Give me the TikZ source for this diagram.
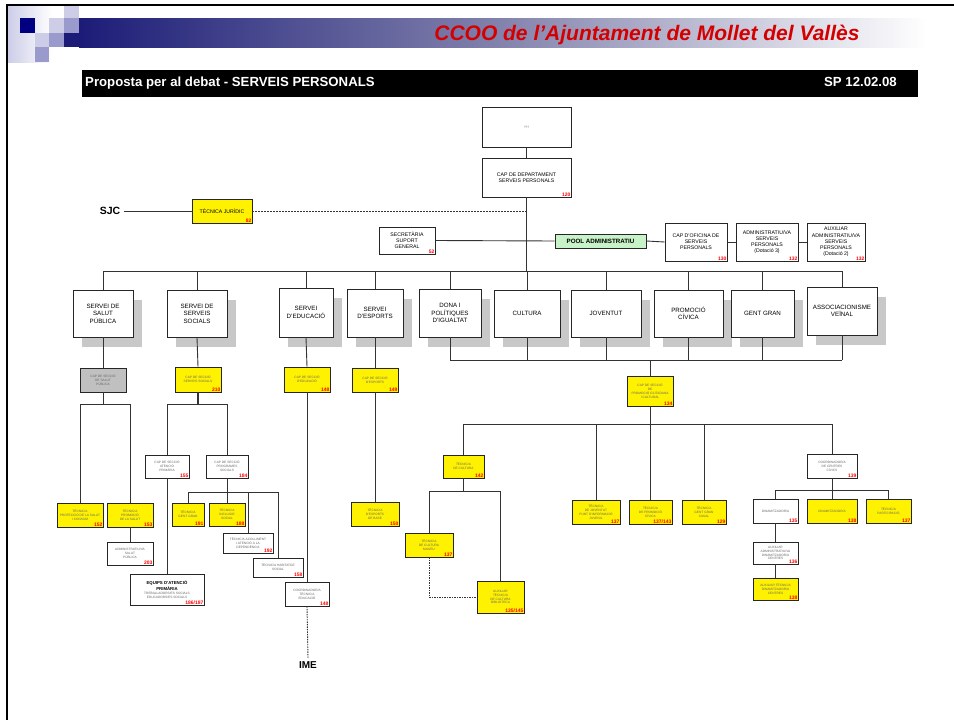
\documentclass[tikz,border=0pt]{standalone}
\usepackage{fontspec}
\setmainfont{Liberation Sans}
\usetikzlibrary{calc}
\definecolor{navy}{HTML}{1C1C78}
\definecolor{navysq}{HTML}{000080}
\definecolor{lavm}{HTML}{9A9ACC}
\definecolor{lavl}{HTML}{CDCDE8}
\definecolor{shadowc}{HTML}{C8C8C8}
\definecolor{greybox}{HTML}{C0C0C0}
\definecolor{poolg}{HTML}{C8F2C8}
\definecolor{titler}{HTML}{D40000}
\tikzset{
  conn/.style={draw=black!80, line width=0.9pt},
  box/.style={draw=black!85, line width=0.9pt, fill=white, inner sep=0.6pt, align=center,
              font=\fontsize{5.2}{6.2}\selectfont},
  ybox/.style={box, fill=yellow, font=\fontsize{3.2}{3.9}\selectfont, text=black!60},
  wbox/.style={box, font=\fontsize{3.2}{3.9}\selectfont, text=black!60},
  gbox/.style={box, fill=greybox, font=\fontsize{3.2}{3.9}\selectfont, text=black!60},
  sbox/.style={box, font=\fontsize{6.2}{7.6}\selectfont},
  num/.style={inner sep=0.9pt, text=red, font=\bfseries\fontsize{5}{5}\selectfont},
  lbl/.style={font=\bfseries\fontsize{10.5}{12}\selectfont},
  bartext/.style={text=white, font=\bfseries\fontsize{13.2}{15}\selectfont, inner sep=0pt},
}
\newcommand\obox[8]{%
  \node[#6, minimum width={(#4-#2)*1pt}, minimum height={(#5-#3)*1pt}] (#1) at ({(#2+#4)/2},{(#3+#5)/2}) {#7};
  \node[num, anchor=south east] (#1n) at (#1.south east) {#8};}
\newcommand\servbox[6]{%
  \fill[shadowc] ({#2+9},{#3+10}) rectangle ({#4+9},{#5+10});
  \node[sbox, minimum width={(#4-#2)*1pt}, minimum height={(#5-#3)*1pt}] (#1) at ({(#2+#4)/2},{(#3+#5)/2}) {#6};}
\newcommand\eqb[1]{{\bfseries\fontsize{4.3}{5.2}\selectfont\color{black}#1}}
\begin{document}
\begin{tikzpicture}[x=1pt,y=-1pt]
\useasboundingbox (0,0) rectangle (954,720);
% ---------- header ----------
\shade[left color=lavl, right color=white] (8,6) rectangle (52,62);
\fill[lavl] (64,6) rectangle (79,18);
\fill[navysq] (20,18) rectangle (35,33);
\fill[lavl] (49,18) rectangle (64,33);
\fill[lavm] (64,18) rectangle (79,33);
\fill[lavl] (35,33) rectangle (49,47);
\fill[lavm] (49,33) rectangle (64,47);
\fill[lavm] (35,47) rectangle (49,62);
\fill[navy] (64,33) rectangle (80,47);
\shade[left color=navy, right color=white, middle color=lavm!85!black] (79,18) rectangle (927,47);
\draw[line width=2.2pt] (7,720) -- (7,5) -- (954,5);
\node[anchor=east, text=titler, font=\bfseries\itshape\fontsize{21}{23}\selectfont] (title) at (863,35) {CCOO de l’Ajuntament de Mollet del Vallès};
\fill[black] (82,70) rectangle (918,97);
\node[bartext, anchor=base west] (bartxt) at (85,86.5) {Proposta per al debat - SERVEIS PERSONALS};
\node[bartext, anchor=base east] (bardate) at (897,86.5) {SP 12.02.08};
% ---------- top ----------
\obox{top}{482}{107}{571}{147}{wbox}{???}{}
\obox{cap}{482}{158}{571}{197}{box}{CAP DE DEPARTAMENT\\SERVEIS PERSONALS}{120}
\node[lbl] (sjc) at (110,211) {SJC};
\obox{tec}{192}{199}{252}{223}{box, fill=yellow}{TÈCNICA JURÍDIC}{82}
\obox{sec}{379}{227}{435}{254}{box}{SECRETÀRIA\\SUPORT\\GENERAL}{52}
\node[box, fill=poolg, font=\bfseries\fontsize{6.2}{7}\selectfont, minimum width=91pt, minimum height=14pt] (pool) at (600.5,241) {POOL ADMINISTRATIU};
\obox{ofi}{665}{223}{727}{261}{box}{CAP D'OFICINA DE\\SERVEIS\\PERSONALS}{130}
\obox{adm}{736}{223}{798}{261}{box}{ADMINISTRATIU/VA\\SERVEIS\\PERSONALS\\(Dotació 3)}{132}
\obox{aux}{807}{223}{865}{261}{box}{AUXILIAR\\ADMINISTRATIU/VA\\SERVEIS\\PERSONALS\\(Dotació 2)}{132}
% ---------- services ----------
\servbox{salut}{73}{290}{133}{337}{SERVEI DE\\SALUT\\PÚBLICA}
\servbox{socials}{167}{290}{227}{337}{SERVEI DE\\SERVEIS\\SOCIALS}
\servbox{educ}{279}{288}{333}{337}{SERVEI\\D'EDUCACIÓ}
\servbox{esports}{347}{289}{403}{337}{SERVEI\\D'ESPORTS}
\servbox{dona}{419}{289}{481}{337}{DONA I\\POLÍTIQUES\\D'IGUALTAT}
\servbox{cultura}{494}{290}{560}{337}{CULTURA}
\servbox{joventut}{571}{290}{641}{337}{JOVENTUT}
\servbox{promocio}{654}{290}{723}{337}{PROMOCIÓ\\CÍVICA}
\servbox{gent}{731}{290}{794}{337}{GENT GRAN}
\servbox{assoc}{807}{287}{877}{335}{ASSOCIACIONISME\\VEÏNAL}
% ---------- level 2 ----------
\obox{salutcap}{80}{368}{126}{392}{gbox}{CAP DE SECCIÓ\\DE SALUT\\PÚBLICA}{}
\obox{socialcap}{175}{367}{221}{392}{ybox}{CAP DE SECCIÓ\\SERVEIS SOCIALS}{210}
\obox{educcap}{284}{367}{330}{392}{ybox}{CAP DE SECCIÓ\\D'EDUCACIÓ}{148}
\obox{espcap}{352}{368}{398}{392}{ybox}{CAP DE SECCIÓ\\D'ESPORTS}{149}
\obox{donacap}{627}{376}{673}{406}{ybox}{CAP DE SECCIÓ\\DE\\PROMOCIÓ CIUTADANA\\I CULTURAL}{134}
% salut subtree
\obox{s152}{57}{503}{103}{527}{ybox}{TÈCNIC/A\\PROTECCIÓ DE LA SALUT\\I CONSUM}{152}
\obox{s153}{107}{503}{153}{527}{ybox}{TÈCNIC/A\\PROMOCIÓ\\DE LA SALUT}{153}
\obox{s203}{107}{542}{153}{565}{wbox}{ADMINISTRATIU/VA\\SALUT\\PÚBLICA}{203}
% socials subtree
\obox{s155}{145}{455}{189}{478}{wbox}{CAP DE SECCIÓ\\ATENCIÓ\\PRIMÀRIA}{155}
\obox{s184}{206}{455}{248}{478}{wbox}{CAP DE SECCIÓ\\PROGRAMES\\SOCIALS}{184}
\obox{equips}{130}{574}{204}{605}{wbox}{\eqb{EQUIPS D'ATENCIÓ}\\\eqb{PRIMÀRIA}\\TREBALLADORS/ES SOCIALS\\EDUCADORS/ES SOCIALS}{186/187}
\obox{s190}{172}{503}{204}{526}{ybox}{TÈCNIC/A\\GENT GRAN}{191}
\obox{s188}{209}{503}{245}{526}{ybox}{TÈCNIC/A\\INCLUSIÓ\\SOCIAL}{188}
\obox{s192}{223}{533}{273}{553}{wbox}{TÈCNIC/A ACOLLIMENT\\I ATENCIÓ A LA\\DEPENDÈNCIA}{192}
\obox{s158}{253}{558}{303}{577}{wbox}{TÈCNIC/A HABITATGE\\SOCIAL}{158}
% educacio / esports
\obox{e148}{285}{582}{329}{606}{wbox}{COORDINADOR/A\\TÈCNIC/A\\EDUCACIÓ}{148}
\node[lbl, font=\bfseries\fontsize{10}{12}\selectfont] (ime) at (308,665) {IME};
\obox{esp150}{351}{502}{399}{526}{ybox}{TÈCNIC/A\\D'ESPORTS\\DE BASE}{150}
% dona group
\obox{d142}{443}{455}{484}{478}{ybox}{TÈCNIC/A\\DE CULTURA}{142}
\obox{d137c}{405}{533}{453}{557}{ybox}{TÈCNIC/A\\DE CULTURA\\MUSEU}{137}
\obox{d135}{477}{581}{524}{613}{ybox}{AUXILIAR\\TÈCNIC/A\\DE CULTURA\\BIBLIOTECA}{135/145}
\obox{d137a}{572}{500}{620}{524}{ybox}{TÈCNIC/A\\DE JOVENTUT\\PUNT D'INFORMACIÓ\\JUVENIL}{137}
\obox{d137b}{629}{500}{672}{524}{ybox}{TÈCNIC/A\\DE PROMOCIÓ\\CÍVICA}{137/143}
\obox{d129}{682}{500}{726}{524}{ybox}{TÈCNIC/A\\GENT GRAN\\CASAL}{129}
\obox{d139}{807}{454}{857}{478}{wbox}{COORDINADOR/A\\DE CENTRES\\CÍVICS}{139}
\obox{d138w}{753}{499}{798}{523}{wbox}{DINAMITZADOR/A}{135}
\obox{d138y}{807}{499}{857}{523}{ybox}{DINAMITZADOR/A}{138}
\obox{d137d}{866}{499}{911}{523}{ybox}{TÈCNIC/A\\PARTICIPACIÓ}{137}
\obox{d136}{753}{542}{798}{564}{wbox}{AUXILIAR\\ADMINISTRATIU/VA\\DINAMITZADOR/A\\CENTRES}{136}
\obox{d138z}{753}{578}{798}{600}{ybox}{AUXILIAR TÈCNIC/A\\DINAMITZADOR/A\\CENTRES}{138}
% ---------- connectors ----------
\coordinate (busA) at (0,271);
\coordinate (busB) at (0,360);
\coordinate (busC) at (0,424);
\coordinate (busS) at (0,404);
\coordinate (busT) at (0,492);
\coordinate (busD) at (0,491);
\coordinate (busE) at (0,490);
\draw[conn] (top.south) -- (cap.north);
\draw[conn] (cap.south) -- (cap.south |- busA);
\draw[conn] (sjc.east) -- (tec.west);
\draw[conn, dashed, dash pattern=on 2pt off 1pt, line width=0.7pt] (tec.east) -- (tec.east -| cap.south);
\draw[conn] (sec.east) -- (pool.west);
\draw[conn] (pool.east) -- (ofi.west);
\draw[conn] (ofi.east) -- (adm.west);
\draw[conn] (adm.east) -- (aux.west);
\draw[conn] (salut.north |- busA) -- (assoc.north |- busA);
\foreach \n in {salut,socials,educ,esports,dona,cultura,joventut,promocio,gent,assoc}
  \draw[conn] (\n.north |- busA) -- (\n.north);
\draw[conn] (salut.south) -- (salutcap.north);
\draw[conn] (socials.south) -- (socialcap.north);
\draw[conn] (educ.south) -- (educcap.north);
\draw[conn] (esports.south) -- (espcap.north);
% salut
\draw[conn] (salutcap.south) -- (salutcap.south |- busS);
\draw[conn] (s152.north |- busS) -- (s153.north |- busS);
\draw[conn] (s152.north |- busS) -- (s152.north);
\draw[conn] (s153.north |- busS) -- (s153.north);
\draw[conn] (s153.south) -- (s203.north);
% socials
\draw[conn, line width=1.5pt] (socialcap.south) -- (socialcap.south |- busS);
\draw[conn] (s155.north |- busS) -- (s184.north |- busS);
\draw[conn] (s155.north |- busS) -- (s155.north);
\draw[conn] (s184.north |- busS) -- (s184.north);
\draw[conn] (s155.south) -- (s155.south |- equips.north);
\draw[conn] (s184.south) -- (s184.south |- busT);
\draw[conn] (s190.north |- busT) -- (s158.north |- busT);
\foreach \n in {s190,s188,s192,s158}
  \draw[conn] (\n.north |- busT) -- (\n.north);
% educacio, esports
\draw[conn] (educcap.south) -- (educcap.south |- e148.north);
\draw[conn, dashed, dash pattern=on 1.5pt off 1pt] (e148.south) -- (ime.north);
\draw[conn] (espcap.south) -- (esp150.north);
% dona group
\draw[conn] (dona.south |- busB) -- (assoc.south |- busB);
\foreach \n in {dona,cultura,joventut,promocio,gent,assoc}
  \draw[conn] (\n.south) -- (\n.south |- busB);
\draw[conn] (donacap.north |- busB) -- (donacap.north);
\draw[conn] (donacap.south) -- (donacap.south |- busC);
\draw[conn] (d142.north |- busC) -- (d139.north |- busC);
\foreach \n in {d142,d137a,d137b,d129,d139}
  \draw[conn] (\n.north |- busC) -- (\n.north);
\draw[conn] (d142.south) -- (d142.south |- busD);
\draw[conn] (d137c.north |- busD) -- (d135.north |- busD);
\draw[conn] (d137c.north |- busD) -- (d137c.north);
\draw[conn] (d135.north |- busD) -- (d135.north);
\draw[conn, dashed, dash pattern=on 1.5pt off 1pt] (d137c.south) |- (d135.west);
\draw[conn] (d139.south) -- (d139.south |- busE);
\draw[conn] (d138w.north |- busE) -- (d137d.north |- busE);
\foreach \n in {d138w,d138y,d137d}
  \draw[conn] (\n.north |- busE) -- (\n.north);
\draw[conn] (d138w.south) -- (d136.north);
\draw[conn] (d136.south) -- (d138z.north);
\end{tikzpicture}
\end{document}
